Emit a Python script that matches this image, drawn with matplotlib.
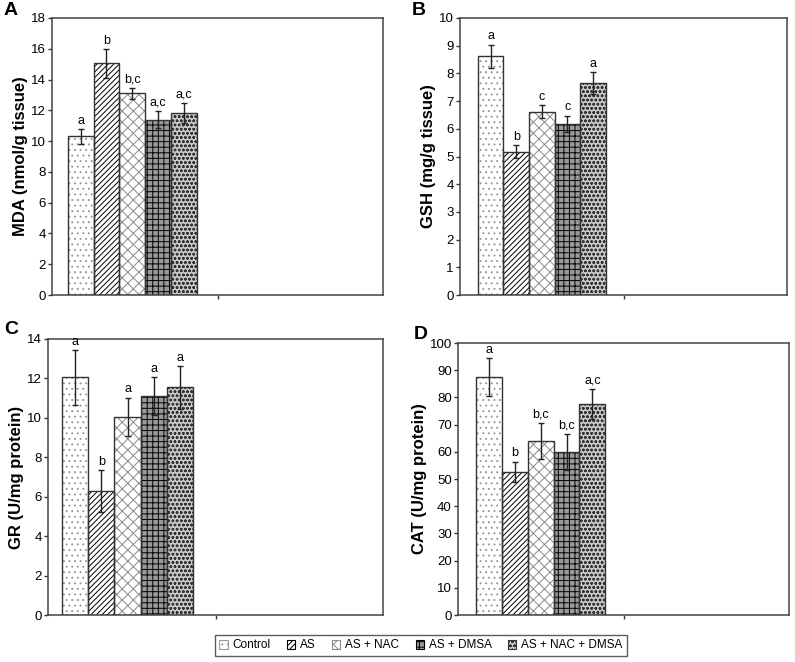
import matplotlib
matplotlib.use("Agg")
import matplotlib.pyplot as plt
from matplotlib.patches import Patch
import numpy as np

groups = ["Control", "AS", "AS + NAC", "AS + DMSA", "AS + NAC + DMSA"]

mda = [10.3, 15.05, 13.1, 11.4, 11.85]
mda_err = [0.47, 0.93, 0.35, 0.58, 0.65]
mda_sig = ["a", "b", "b,c", "a,c", "a,c"]

gsh = [8.62, 5.18, 6.62, 6.18, 7.64]
gsh_err = [0.42, 0.23, 0.23, 0.3, 0.4]
gsh_sig = ["a", "b", "c", "c", "a"]

gr = [12.05, 6.3, 10.05, 11.1, 11.55]
gr_err = [1.4, 1.05, 0.98, 0.97, 1.08]
gr_sig = ["a", "b", "a", "a", "a"]

cat = [87.6, 52.6, 64.0, 60.0, 77.6]
cat_err = [7.0, 3.8, 6.6, 6.6, 5.5]
cat_sig = ["a", "b", "b,c", "b,c", "a,c"]

plt.rcParams['font.family'] = ['Liberation Sans', 'DejaVu Sans']
plt.rcParams['hatch.linewidth'] = 0.7

# style per group: (facecolor, hatch, hatchcolor)
styles = [
    ("white", "...", "#9a9a9a"),
    ("white", "//////", "black"),
    ("white", "xxx", "#8a8a8a"),
    ("#9a9a9a", "+++", "black"),
    ("#c8c8c8", "oooo", "#333333"),
]

fig = plt.figure(figsize=(7.95, 6.62), dpi=100)

panels = [
    ("A", [52/795, 1-295/662, 331/795, 277/662], mda, mda_err, mda_sig, "MDA (nmol/g tissue)", 18, 2, -0.015, (4, 2)),
    ("B", [460/795, 1-295/662, 327/795, 277/662], gsh, gsh_err, gsh_sig, "GSH (mg/g tissue)", 10, 1, 0.0, (412, 2)),
    ("C", [48/795, 1-615/662, 335/795, 276/662], gr, gr_err, gr_sig, "GR (U/mg protein)", 14, 2, -0.025, (4, 321)),
    ("D", [458/795, 1-615/662, 331/795, 272/662], cat, cat_err, cat_sig, "CAT (U/mg protein)", 100, 10, 0.0, (414, 326)),
]

bw = 0.156
for letter, rect, vals, errs, sigs, ylabel, ymax, step, off, lpos in panels:
    ax = fig.add_axes(rect)
    n = len(vals)
    xs = off + (np.arange(n) - (n - 1) / 2) * bw
    for i, (x, v, e, s) in enumerate(zip(xs, vals, errs, sigs)):
        fc, h, hc = styles[i]
        ax.bar(x, v, width=bw, color=fc, edgecolor=hc, hatch=h, linewidth=0, zorder=2)
        ax.bar(x, v, width=bw, facecolor="none", edgecolor="#333333", linewidth=1.0, zorder=3)
        ax.errorbar(x, v, yerr=e, fmt="none", ecolor="#222222", elinewidth=1.0, capsize=2.5, capthick=1.0, zorder=4)
        ax.text(x, v + e + ymax * 0.008, s, ha="center", va="bottom", fontsize=9, zorder=5)
    ax.set_xlim(-0.5, 1.5)
    ax.set_ylim(0, ymax)
    ax.set_yticks(np.arange(0, ymax + step / 2, step))
    ax.set_xticks([0.5])
    ax.set_xticklabels([])
    ax.tick_params(axis="y", direction="out", length=3, width=1, labelsize=9.5, colors="#333333", labelcolor="black", pad=1.5)
    ax.tick_params(axis="x", direction="out", length=3, width=1, colors="#333333")
    for sp in ax.spines.values():
        sp.set_color("#444444")
        sp.set_linewidth(1.1)
    ax.set_ylabel(ylabel, fontsize=12, fontweight="bold", labelpad=2)
    fig.text(lpos[0] / 795, 1 - lpos[1] / 662, letter, fontsize=14, fontweight="bold",
             ha="left", va="top")

handles = [Patch(facecolor=styles[i][0], edgecolor=styles[i][2], hatch=styles[i][1], linewidth=0.8)
           for i in range(len(groups))]
leg = fig.legend(handles, groups, loc="center", bbox_to_anchor=(421/795, 1-645.5/662), ncol=5,
                 fontsize=8.5, frameon=True, fancybox=False, edgecolor="#333333",
                 handlelength=0.7, handleheight=0.7, handletextpad=0.4, columnspacing=1.4,
                 borderpad=0.4)
leg.get_frame().set_linewidth(1.0)

fig.savefig("out.png", dpi=100)
